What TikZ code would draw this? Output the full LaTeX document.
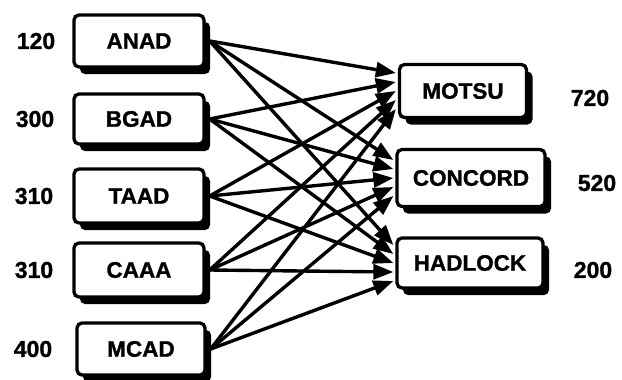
\documentclass[tikz,border=0pt]{standalone}
\usepackage{fontspec}
\setmainfont{Liberation Sans}[BoldFeatures={FakeBold=1.2}]
\usetikzlibrary{arrows.meta,shadows,calc}
\begin{document}
\begin{tikzpicture}[x=1pt,y=-1pt,
 box/.style={draw=black, line width=3.3pt, rounded corners=5pt, fill=white,
   font=\fontsize{22.5}{26}\selectfont\bfseries, inner sep=0pt,
   drop shadow={shadow xshift=6pt, shadow yshift=-7pt, fill=black, opacity=1}},
 num/.style={font=\fontsize{23}{26}\selectfont\bfseries},
 link/.style={line width=3.4pt, -{Triangle[length=20pt,width=15pt]}}]
\useasboundingbox (0,0) rectangle (622,380);
% left boxes
\node[box, minimum width=130pt, minimum height=52pt] (anad) at (139,41) {ANAD};
\node[box, minimum width=130pt, minimum height=50pt] (bgad) at (139,119) {BGAD};
\node[box, minimum width=130pt, minimum height=54pt] (taad) at (139,196) {TAAD};
\node[box, minimum width=130pt, minimum height=54pt] (caaa) at (139,270) {CAAA};
\node[box, minimum width=128pt, minimum height=52pt] (mcad) at (141,349) {MCAD};
% right boxes
\node[box, minimum width=127pt, minimum height=53pt] (motsu) at (463,91) {MOTSU};
\node[box, minimum width=148pt, minimum height=57pt] (concord) at (471,178) {CONCORD};
\node[box, minimum width=146pt, minimum height=50pt] (hadlock) at (470,263) {HADLOCK};
% numbers
\node[num] (n1) at (36,41) {120};
\node[num] (n2) at (35,119) {300};
\node[num] (n3) at (34,196) {310};
\node[num] (n4) at (34,270) {310};
\node[num] (n5) at (33,349) {400};
\node[num] (n6) at (590,98) {720};
\node[num] (n7) at (597,183) {520};
\node[num] (n8) at (593,270) {200};
% connectors
\foreach \s [count=\i] in {anad,bgad,taad,caaa,mcad} {
  \foreach \t in {motsu,concord,hadlock} {
    \draw[link] ([xshift=4pt]\s.east) -- ($(\t.west)+(-2,{-18+9*(\i-1)})$);
  }
}
\end{tikzpicture}
\end{document}
